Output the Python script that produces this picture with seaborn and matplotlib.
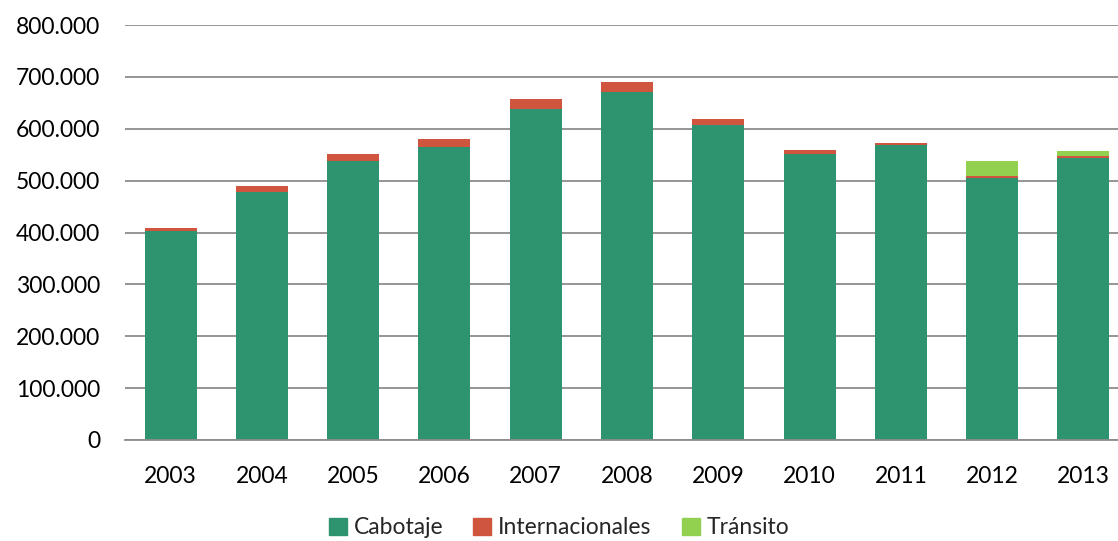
import numpy as np
import pandas as pd
import matplotlib
matplotlib.use("Agg")
import matplotlib.pyplot as plt
import seaborn as sns
from matplotlib.patches import Patch
from matplotlib.ticker import FuncFormatter

years = ["2003", "2004", "2005", "2006", "2007", "2008", "2009", "2010", "2011", "2012", "2013"]
cabotaje = [402000, 479000, 537000, 564000, 638000, 671000, 608000, 551000, 569000, 506000, 544000]
internacionales = [6000, 10000, 14000, 16000, 20000, 19000, 11000, 9000, 4000, 3000, 3000]
transito = [0, 0, 0, 0, 0, 0, 0, 0, 0, 28000, 10000]

colors = {"Cabotaje": "#2E9470", "Internacionales": "#D0553F", "Tránsito": "#92D050"}

df = pd.DataFrame({"year": years, "cab": cabotaje, "int": internacionales, "tra": transito})
df["lvl2"] = df["cab"] + df["int"]
df["lvl3"] = df["lvl2"] + df["tra"]

sns.set_style("white")
plt.rcParams["font.family"] = ["Lato", "DejaVu Sans"]

fig = plt.figure(figsize=(11.18, 5.41), dpi=100)
ax = fig.add_axes([125 / 1118, 1 - 440 / 541, 1004 / 1118, 415 / 541])

# stacked bars: draw the running totals from the top down
for col, key in [("lvl3", "Tránsito"), ("lvl2", "Internacionales"), ("cab", "Cabotaje")]:
    sns.barplot(data=df, x="year", y=col, color=colors[key], width=0.57,
                saturation=1, linewidth=0, ax=ax)

ax.set_ylim(0, 800000)
ax.set_yticks(np.arange(0, 800001, 100000))
ax.yaxis.set_major_formatter(FuncFormatter(lambda v, p: "0" if v == 0 else f"{int(v):,}".replace(",", ".")))
ax.grid(axis="y", color="#8C8C8C", linewidth=1.3)
ax.set_axisbelow(True)
for s in ["left", "right", "top"]:
    ax.spines[s].set_visible(False)
ax.spines["bottom"].set_color("#8C8C8C")
ax.spines["bottom"].set_linewidth(1.3)
ax.tick_params(axis="both", length=0, labelsize=16.5, colors="#000000")
ax.tick_params(axis="y", pad=18)
ax.tick_params(axis="x", pad=19)
ax.set_xlabel("")
ax.set_ylabel("")

handles = [Patch(color=c, label=k) for k, c in colors.items()]
fig.legend(handles=handles, loc="center", bbox_to_anchor=(0.5, 1 - 528 / 541), ncol=3,
           frameon=False, fontsize=16.5, handlelength=0.8, handleheight=0.8,
           handletextpad=0.3, columnspacing=1.3)

fig.savefig("out.png", dpi=100)
